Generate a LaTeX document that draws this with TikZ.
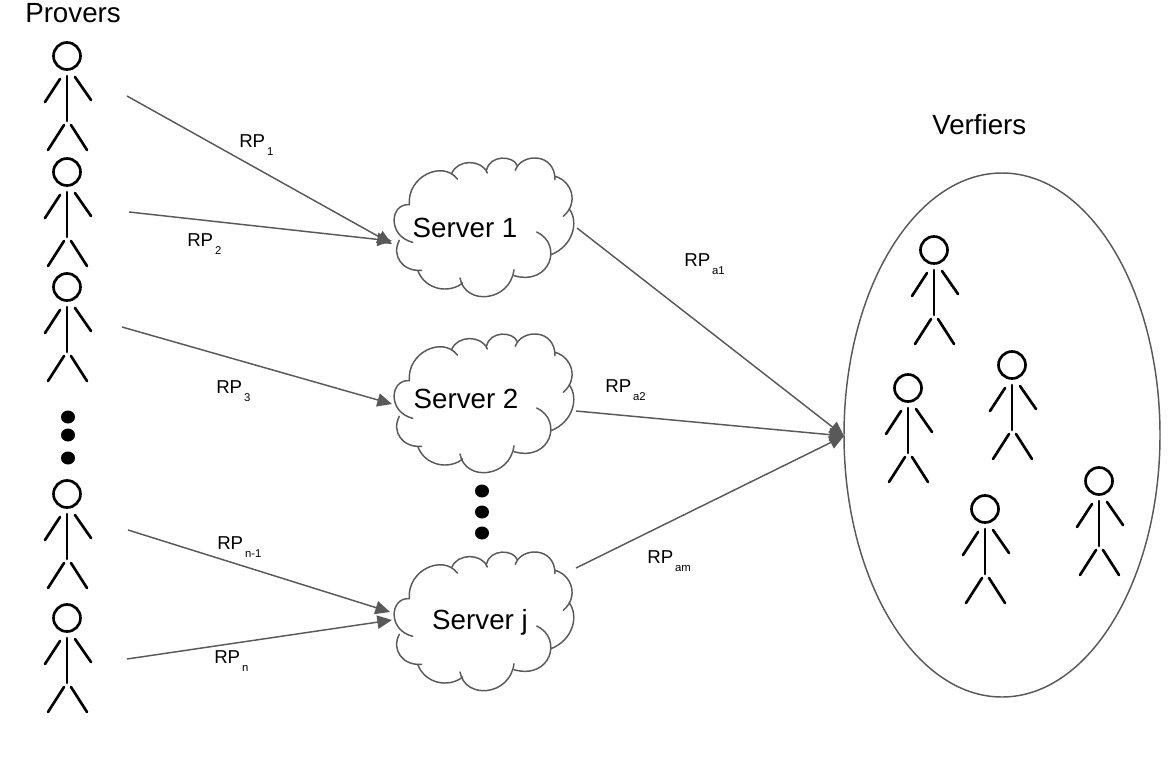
\documentclass[tikz,border=0pt]{standalone}
\usepackage{fontspec}
\setmainfont{Liberation Sans}
\usetikzlibrary{arrows.meta}
\definecolor{linegray}{HTML}{595959}
\newcommand{\rplabel}[1]{RP\raisebox{-6pt}{\fontsize{8.5}{10}\selectfont\,#1}}
\tikzset{
  stick/.style={black, line width=2pt, line cap=round},
  cloudline/.style={linegray, line width=1.1pt, line cap=round},
  link/.style={linegray, line width=1.1pt, -{Triangle[length=11pt, width=10pt]}},
  bigtext/.style={font=\fontsize{20.8}{24}\selectfont, inner sep=0pt},
  rptext/.style={font=\fontsize{14}{16}\selectfont, inner sep=0pt, anchor=base west},
  person/.pic={
    \draw [stick] (0, 0) circle [radius = 13.5];
    \draw [stick] (0, 20) -- (0, 65);
    \draw [stick] (-7, 23) -- (-22, 46);
    \draw [stick] (8, 21) -- (24, 44);
    \draw [stick] (-3, 69) -- (-19, 94);
    \draw [stick] (4, 69) -- (20, 94);
  },
  cloudshape/.pic={
    \draw [cloudline] (-75.7,-23.3) .. controls (-78,-52) and (-42,-68) .. (-27.7,-49);
    \draw [cloudline] (-33.3,-54.3) .. controls (-28,-69) and (-3,-69) .. (2.3,-55);
    \draw [cloudline] (1.7,-58.3) .. controls (5,-73) and (28,-73) .. (32.3,-62.3);
    \draw [cloudline] (30.3,-57.7) .. controls (36,-75) and (70,-76) .. (70,-48.3);
    \draw [cloudline] (70,-51.7) .. controls (87,-47) and (94,-25) .. (78.3,-11.7);
    \draw [cloudline] (84.3,-19) .. controls (94,-6) and (88,18) .. (66,26.7);
    \draw [cloudline] (51.7,4) .. controls (78,16) and (66,58) .. (29,47.7);
    \draw [cloudline] (29,41.7) .. controls (25,74) and (-20,78) .. (-25,50);
    \draw [cloudline] (-22.3,55) .. controls (-36,66) and (-60,62) .. (-67.3,42.3);
    \draw [cloudline] (-63.3,42.3) .. controls (-82,44) and (-94,28) .. (-85.7,12.3);
    \draw [cloudline] (-72.3,14.3) .. controls (-98,8) and (-95,-25) .. (-75.7,-23.3);
  }
}

\begin{document}
\begin{tikzpicture}[x=0.75pt, y=-0.75pt]
\useasboundingbox (0, 0) rectangle (1170, 782);

\node [bigtext, anchor=west] (provers) at (25, 13) {Provers};
\node [bigtext, anchor=west] (verfiers) at (932, 125) {Verfiers};

% provers
\pic at (67, 56) {person};
\pic at (67, 172) {person};
\pic at (67, 287) {person};
\pic at (67, 494) {person};
\pic at (67, 618) {person};
\fill [black] (68, 417) ellipse [x radius = 7, y radius = 6.5];
\fill [black] (68, 435) ellipse [x radius = 7, y radius = 6.5];
\fill [black] (68, 458) ellipse [x radius = 7, y radius = 6.5];

% servers
\pic at (485, 228) {cloudshape};
\pic at (485, 404) {cloudshape};
\pic at (485, 622) {cloudshape};
\node [bigtext] (server1) at (465, 228) {Server 1};
\node [bigtext] (server2) at (466, 399) {Server 2};
\node [bigtext] (serverj) at (480, 622) {Server j};
\fill [black] (482, 491) ellipse [x radius = 7, y radius = 6.5];
\fill [black] (482, 512) ellipse [x radius = 7, y radius = 6.5];
\fill [black] (482, 533) ellipse [x radius = 7, y radius = 6.5];

% verifiers
\draw [linegray, line width=1.1pt] (1002, 435) ellipse [x radius = 158, y radius = 262];
\pic at (934, 250) {person};
\pic at (1012, 365) {person};
\pic at (908, 388) {person};
\pic at (985, 509) {person};
\pic at (1099, 481) {person};

% connector ends
\coordinate (p1) at (127, 96);
\coordinate (p2) at (129, 212);
\coordinate (p3) at (122, 327);
\coordinate (pm) at (128, 530);
\coordinate (pn) at (127, 659);
\coordinate (s1in) at (392, 244);
\coordinate (s1inb) at (392, 241);
\coordinate (s2in) at (392, 404);
\coordinate (sjin) at (390, 612);
\coordinate (sjinb) at (392, 620);
\coordinate (s1out) at (577, 228);
\coordinate (s2out) at (576, 411);
\coordinate (sjout) at (576, 568);
\coordinate (vin) at (844, 436);

\draw [link] (p1) -- (s1in);
\draw [link] (p2) -- (s1inb);
\draw [link] (p3) -- (s2in);
\draw [link] (pm) -- (sjin);
\draw [link] (pn) -- (sjinb);
\draw [link] (s1out) -- (vin);
\draw [link] (s2out) -- (vin);
\draw [link] (sjout) -- (vin);

\node [rptext] (rp1) at (239, 147) {\rplabel{1}};
\node [rptext] (rp2) at (187, 246) {\rplabel{2}};
\node [rptext] (rp3) at (216, 393) {\rplabel{3}};
\node [rptext] (rpm) at (217, 549) {\rplabel{n-1}};
\node [rptext] (rpn) at (214, 663) {\rplabel{n}};
\node [rptext] (rpa1) at (684, 266) {\rplabel{a1}};
\node [rptext] (rpa2) at (605, 392) {\rplabel{a2}};
\node [rptext] (rpam) at (647, 563) {\rplabel{am}};
\end{tikzpicture}
\end{document}
